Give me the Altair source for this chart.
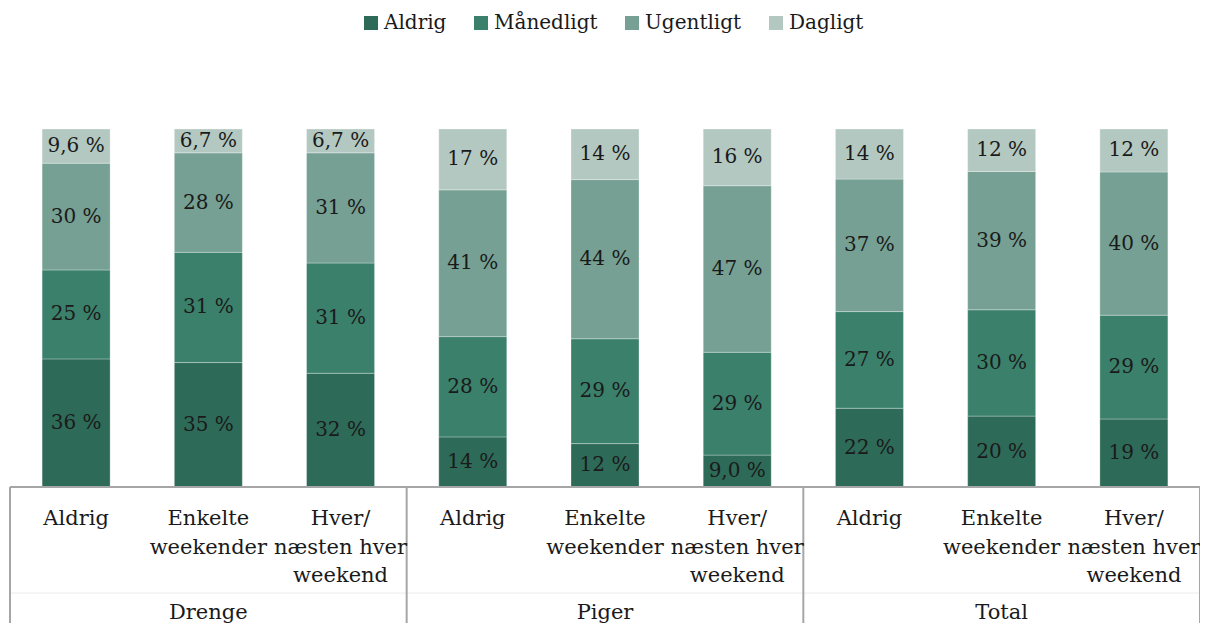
import altair as alt
import pandas as pd

groups = ["Drenge", "Piger", "Total"]
categories = ["Aldrig", "Enkelte\nweekender", "Hver/\nnæsten hver\nweekend"]
series = ["Aldrig", "Månedligt", "Ugentligt", "Dagligt"]
colors = ["#2e6a58", "#3a806a", "#75a093", "#b3c8c0"]

aldrig = [36, 35, 32, 14, 12, 9.0, 22, 20, 19]
maanedligt = [25, 31, 31, 28, 29, 29, 27, 30, 29]
ugentligt = [30, 28, 31, 41, 44, 47, 37, 39, 40]
dagligt = [9.6, 6.7, 6.7, 17, 14, 16, 14, 12, 12]

FONT = "DejaVu Serif"
W, H = 1190, 494


def fmt(v):
    if v < 10:
        return f"{v:.1f}".replace(".", ",") + " %"
    return f"{v:.0f} %"


rows = []
for i in range(9):
    for k, (s, vals) in enumerate(zip(series, [aldrig, maanedligt, ugentligt, dagligt])):
        rows.append({"idx": i, "series": s, "order": k, "value": vals[i], "label": fmt(vals[i])})
df = pd.DataFrame(rows)

cat_df = pd.DataFrame({"idx": list(range(9)), "label": [categories[i % 3] for i in range(9)]})
grp_df = pd.DataFrame({"idx": [1, 4, 7], "label": groups})
bound_df = pd.DataFrame({"b": [-0.5, 2.5, 5.5, 8.5]})
one = pd.DataFrame({"a": [0]})

xscale = alt.Scale(domain=[-0.5, 8.5], nice=False, zero=False, padding=0)
yscale = alt.Scale(domain=[-(H - 358) / 358, 1], nice=False, zero=False, padding=0)

base = alt.Chart(df).transform_stack(
    stack="value", groupby=["idx"], as_=["y0", "y1"], offset="normalize",
    sort=[alt.SortField("order", order="ascending")]
)

bars = base.mark_bar(size=68, stroke="white", strokeWidth=0.6, strokeOpacity=0.5).encode(
    x=alt.X("idx:Q", scale=xscale, axis=None),
    y=alt.Y("y0:Q", scale=yscale, axis=None),
    y2="y1:Q",
    color=alt.Color(
        "series:N",
        scale=alt.Scale(domain=series, range=colors),
        legend=alt.Legend(
            title=None, orient="none", legendX=351, legendY=-116, direction="horizontal",
            symbolType="square", symbolSize=196, symbolStrokeWidth=0,
            labelFont=FONT, labelFontSize=20, labelColor="#1a1a1a",
            columnPadding=24, labelOffset=3, padding=0,
        ),
    ),
    order=alt.Order("order:Q"),
)

seg_text = base.transform_calculate(mid="(datum.y0 + datum.y1) / 2").mark_text(
    font=FONT, fontSize=20, color="#1a1a1a", baseline="middle", align="center"
).encode(
    x=alt.X("idx:Q", scale=xscale, axis=None),
    y=alt.Y("mid:Q", scale=yscale, axis=None),
    text="label:N",
)

baseline_rule = alt.Chart(one).mark_rule(color="#a6a6a6", strokeWidth=2).encode(
    x=alt.value(0), x2=alt.value(W), y=alt.value(358)
)
faint_rule = alt.Chart(one).mark_rule(color="#ececec", strokeWidth=1).encode(
    x=alt.value(0), x2=alt.value(W), y=alt.value(464)
)
vrules = alt.Chart(bound_df).mark_rule(color="#a6a6a6", strokeWidth=2).encode(
    x=alt.X("b:Q", scale=xscale, axis=None), y=alt.value(358), y2=alt.value(H)
)

cat_text = alt.Chart(cat_df).mark_text(
    font=FONT, fontSize=21, color="#1a1a1a", baseline="alphabetic", align="center",
    lineBreak="\n", lineHeight=28.5
).encode(
    x=alt.X("idx:Q", scale=xscale, axis=None), y=alt.value(396), text="label:N"
)
grp_text = alt.Chart(grp_df).mark_text(
    font=FONT, fontSize=21, color="#1a1a1a", baseline="alphabetic", align="center"
).encode(
    x=alt.X("idx:Q", scale=xscale, axis=None), y=alt.value(490), text="label:N"
)

chart = alt.layer(bars, seg_text, faint_rule, baseline_rule, vrules, cat_text, grp_text).properties(
    width=W, height=H,
    padding={"left": 2, "top": 121, "right": 0, "bottom": 0},
    autosize=alt.AutoSizeParams(type="none"),
).configure(background="white").configure_view(stroke=None)

chart.save("out.html", embed_options={"renderer": "svg", "actions": False})
